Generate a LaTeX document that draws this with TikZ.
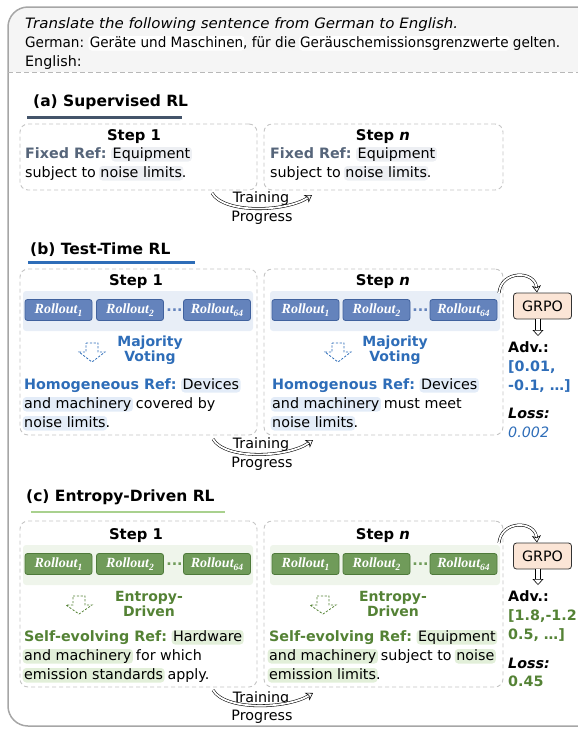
\documentclass[tikz,border=0pt]{standalone}
\usepackage{fontspec}
\usepackage{graphicx}
\setmainfont{DejaVu Sans}
\newfontfamily\rollfont{Liberation Serif}
\usetikzlibrary{arrows.meta}

\definecolor{frameGray}{HTML}{A6A6A6}
\definecolor{topFill}{HTML}{F5F5F5}
\definecolor{boxDash}{HTML}{C4C4C4}
\definecolor{slate}{HTML}{56657A}
\definecolor{slateLine}{HTML}{44546A}
\definecolor{hlGray}{HTML}{EDEFF3}
\definecolor{blueText}{HTML}{2E6DB8}
\definecolor{blueBand}{HTML}{E8EEF7}
\definecolor{blueHl}{HTML}{E3ECF8}
\definecolor{blueRoll}{HTML}{6483BC}
\definecolor{blueRollDraw}{HTML}{41629E}
\definecolor{greenText}{HTML}{548235}
\definecolor{greenLine}{HTML}{A9D18E}
\definecolor{greenBand}{HTML}{EFF5EB}
\definecolor{greenHl}{HTML}{E2EFD9}
\definecolor{greenRoll}{HTML}{709B5A}
\definecolor{greenRollDraw}{HTML}{4E7A3A}
\definecolor{peach}{HTML}{FBE5D6}

\newcommand{\bodyfont}{\fontsize{14.3}{18}\selectfont}
% rounded highlight behind a word group
\newcommand{\hlword}[2]{\kern-1.5pt\relax\tikz[baseline=(hw.base)]\node[shape=rectangle, draw=none, fill=#1, rounded corners=3.5pt, inner xsep=1.5pt, inner ysep=0pt, text height=11pt, text depth=3.5pt, outer sep=0pt, minimum size=0pt](hw){#2};\kern-1.5pt\relax}
\newcommand{\rollname}[1]{Rollout\raisebox{-2.5pt}{\fontsize{9.5}{9.5}\selectfont #1}}
\newcommand{\refa}[1]{\textbf{\color{slate}#1}}
\newcommand{\refb}[1]{\textbf{\color{blueText}#1}}
\newcommand{\refc}[1]{\textbf{\color{greenText}#1}}

\begin{document}
\begin{tikzpicture}[x=1pt,y=-1pt,
  frameline/.style={draw=frameGray, line width=1.5pt},
  sepline/.style={draw=frameGray!80, line width=0.9pt, dash pattern=on 5pt off 3pt},
  topline/.style={anchor=base west, inner sep=0pt, font=\bodyfont},
  heading/.style={anchor=base west, inner sep=0pt, font=\fontsize{15.5}{18}\selectfont\bfseries},
  stepbox/.style={draw=boxDash, line width=0.9pt, dash pattern=on 4pt off 3pt, rounded corners=8pt, inner sep=0pt},
  steptitle/.style={anchor=base, inner sep=0pt, font=\fontsize{14.8}{18}\selectfont\bfseries},
  txt/.style={anchor=base west, inner sep=0pt, font=\bodyfont},
  rollbox/.style={rounded corners=2.5pt, line width=0.8pt, minimum width=67pt, minimum height=21pt, inner sep=0pt, text=white, font=\rollfont\fontsize{14}{14}\selectfont\bfseries\itshape},
  rolldots/.style={inner sep=0pt, font=\bodyfont\bfseries},
  method/.style={align=center, inner sep=0pt, font=\fontsize{14}{15}\selectfont\bfseries},
  grpo/.style={draw=black!80, fill=peach, rounded corners=3pt, line width=0.8pt, minimum width=58pt, minimum height=26pt, inner sep=0pt, font=\bodyfont},
  side/.style={anchor=base west, inner sep=0pt, font=\bodyfont},
  progtxt/.style={anchor=base, inner sep=0pt, font=\bodyfont},
  progarrow/.style={draw=black, line width=0.55pt, double=white, double distance=1.8pt, -{Stealth[open, length=7pt, width=9pt, inset=2pt]}},
  blockarrow/.style={draw=black, line width=0.6pt, double=white, double distance=4pt, -{Triangle[open, length=6pt, width=11pt]}},
  hollowdash/.style={line width=0.8pt, dash pattern=on 2.2pt off 1.6pt, line join=miter}
]
\useasboundingbox (0,0) rectangle (578,729);

% ---- outer frame with shaded prompt area ----
\begin{scope}
  \clip[rounded corners=20pt] (8,7) rectangle (610,726);
  \fill[topFill] (0,0) rectangle (610,72);
\end{scope}
\draw[frameline, rounded corners=20pt] (8,7) rectangle (610,726);
\draw[sepline] (8,72) -- (578,72);

% ---- prompt ----
\node[topline, font=\bodyfont\itshape] (instr) at (25,28) {\resizebox{433pt}{\height}{Translate the following sentence from German to English.}};
\node[topline] (german) at (25,47) {\resizebox{535pt}{\height}{German: \hlword{white}{Geräte und Maschinen}, für die \hlword{white}{Geräuschemissionsgrenzwerte} gelten.}};
\node[topline] (english) at (25,66) {English:};

% ================= (a) Supervised RL =================
\node[heading] (ha) at (33,106) {(a) Supervised RL};
\draw[slateLine, line width=3pt] (27,117) -- (182,117);

\node[stepbox, minimum width=237pt, minimum height=66pt] (a1) at (138.5,157) {};
\node[stepbox, minimum width=239pt, minimum height=66pt] (an) at (383.5,157) {};
\node[steptitle] (a1t) at (134,140) {Step 1};
\node[steptitle] (ant) at (383,140) {Step \textit{n}};
\node[txt] (a1l1) at (25,158) {\refa{Fixed Ref:} \hlword{hlGray}{Equipment}};
\node[txt] (a1l2) at (25,177) {subject to \hlword{hlGray}{noise limits}.};
\node[txt] (anl1) at (270,158) {\refa{Fixed Ref:} \hlword{hlGray}{Equipment}};
\node[txt] (anl2) at (270,177) {subject to \hlword{hlGray}{noise limits}.};

\node[progtxt] (atr) at (261,202) {Training};
\node[progtxt] (apg) at (262,221) {Progress};
\coordinate (aps) at (212,193);
\coordinate (ape) at (312,195);
\draw[progarrow] (aps) .. controls (224,214) and (286,212) .. (ape);

% ================= (b) Test-Time RL =================
\node[heading] (hb) at (30,254) {(b) Test-Time RL};
\draw[blueText, line width=2.5pt] (28,262.5) -- (195,262.5);

\node[stepbox, minimum width=237pt, minimum height=166pt] (b1) at (138.5,352) {};
\node[stepbox, minimum width=239pt, minimum height=166pt] (bn) at (383.5,352) {};
\node[steptitle] (b1t) at (136,285) {Step 1};
\node[steptitle] (bnt) at (383,285) {Step \textit{n}};

\fill[blueBand, rounded corners=3pt] (23,291) rectangle (253,331);
\fill[blueBand, rounded corners=3pt] (270,291) rectangle (500,331);
\node[rollbox, fill=blueRoll, draw=blueRollDraw] (b1r1) at (58.5,310) {\rollname{1}};
\node[rollbox, fill=blueRoll, draw=blueRollDraw] (b1r2) at (130,310) {\rollname{2}};
\node[rolldots, text=blueRoll] (b1d) at (174.5,310) {...};
\node[rollbox, fill=blueRoll, draw=blueRollDraw] (b1r3) at (217,310) {\rollname{64}};
\node[rollbox, fill=blueRoll, draw=blueRollDraw] (bnr1) at (305.5,310) {\rollname{1}};
\node[rollbox, fill=blueRoll, draw=blueRollDraw] (bnr2) at (376.5,310) {\rollname{2}};
\node[rolldots, text=blueRoll] (bnd) at (420.5,310) {...};
\node[rollbox, fill=blueRoll, draw=blueRollDraw] (bnr3) at (463.5,310) {\rollname{64}};

% dashed hollow arrows
\draw[hollowdash, blueText] (86,343) -- (98,343) -- (98,352) -- (105,352) -- (92,362) -- (79,352) -- (86,352) -- cycle;
\draw[hollowdash, blueText] (332,343) -- (344,343) -- (344,352) -- (351,352) -- (338,362) -- (325,352) -- (332,352) -- cycle;
\node[method, text=blueText] (b1m) at (150,350) {Majority\\Voting};
\node[method, text=blueText] (bnm) at (395,350) {Majority\\Voting};

\node[txt] (b1l1) at (24,389) {\refb{Homogeneous Ref:} \hlword{blueHl}{Devices}};
\node[txt] (b1l2) at (24,408) {\hlword{blueHl}{and machinery} covered by};
\node[txt] (b1l3) at (24,427) {\hlword{blueHl}{noise limits}.};
\node[txt] (bnl1) at (272,389) {\refb{Homogenous Ref:} \hlword{blueHl}{Devices}};
\node[txt] (bnl2) at (272,408) {\hlword{blueHl}{and machinery} must meet};
\node[txt] (bnl3) at (272,427) {\hlword{blueHl}{noise limits}.};

\node[grpo] (bg) at (542.5,306) {GRPO};
\coordinate (bgs) at (499,293);
\coordinate (bge) at (537,292.5);
\draw[progarrow] (bgs) .. controls (501,270) and (535,270) .. (bge);
\coordinate (bgd) at (538,319);
\coordinate (bga) at (538,336);
\draw[blockarrow] (bgd) -- (bga);
\node[side, font=\bodyfont\bfseries] (bav) at (508,352) {Adv.:};
\node[side, font=\bodyfont\bfseries, text=blueText] (bv1) at (508,371) {[0.01,};
\node[side, font=\bodyfont\bfseries, text=blueText] (bv2) at (508,390) {-0.1, \textellipsis]};
\node[side, font=\bodyfont\bfseries\itshape] (blo) at (508,418) {Loss:};
\node[side, font=\bodyfont\itshape, text=blueText] (blv) at (508,437) {0.002};

\node[progtxt] (btr) at (261,448) {Training};
\node[progtxt] (bpg) at (262,467) {Progress};
\coordinate (bps) at (213,439);
\coordinate (bpe) at (313,440);
\draw[progarrow] (bps) .. controls (225,460) and (287,458) .. (bpe);

% ================= (c) Entropy-Driven RL =================
\node[heading] (hc) at (26,501) {(c) Entropy-Driven RL};
\draw[greenLine, line width=2.5pt] (31,512) -- (225,512);

\node[stepbox, minimum width=237pt, minimum height=166pt] (c1) at (138.5,604) {};
\node[stepbox, minimum width=239pt, minimum height=166pt] (cn) at (383.5,604) {};
\node[steptitle] (c1t) at (136,539) {Step 1};
\node[steptitle] (cnt) at (383,539) {Step \textit{n}};

\fill[greenBand, rounded corners=3pt] (23,545) rectangle (253,585);
\fill[greenBand, rounded corners=3pt] (270,545) rectangle (500,585);
\node[rollbox, fill=greenRoll, draw=greenRollDraw] (c1r1) at (58.5,564) {\rollname{1}};
\node[rollbox, fill=greenRoll, draw=greenRollDraw] (c1r2) at (130,564) {\rollname{2}};
\node[rolldots, text=greenRoll] (c1d) at (174.5,564) {...};
\node[rollbox, fill=greenRoll, draw=greenRollDraw] (c1r3) at (217,564) {\rollname{64}};
\node[rollbox, fill=greenRoll, draw=greenRollDraw] (cnr1) at (305.5,564) {\rollname{1}};
\node[rollbox, fill=greenRoll, draw=greenRollDraw] (cnr2) at (376.5,564) {\rollname{2}};
\node[rolldots, text=greenRoll] (cnd) at (420.5,564) {...};
\node[rollbox, fill=greenRoll, draw=greenRollDraw] (cnr3) at (463.5,564) {\rollname{64}};

\draw[hollowdash, greenText] (73,596) -- (85,596) -- (85,605) -- (92,605) -- (79,614) -- (66,605) -- (73,605) -- cycle;
\draw[hollowdash, greenText] (317,596) -- (329,596) -- (329,605) -- (336,605) -- (323,614) -- (310,605) -- (317,605) -- cycle;
\node[method, text=greenText] (c1m) at (149,603.5) {Entropy-\\Driven};
\node[method, text=greenText] (cnm) at (393,603.5) {Entropy-\\Driven};

\node[txt] (c1l1) at (24,641) {\refc{Self-evolving Ref:} \hlword{greenHl}{Hardware}};
\node[txt] (c1l2) at (24,660) {\hlword{greenHl}{and machinery} for which};
\node[txt] (c1l3) at (24,679) {\hlword{greenHl}{emission standards} apply.};
\node[txt] (cnl1) at (269,641) {\refc{Self-evolving Ref:} \hlword{greenHl}{Equipment}};
\node[txt] (cnl2) at (269,660) {\hlword{greenHl}{and machinery} subject to \hlword{greenHl}{noise}};
\node[txt] (cnl3) at (269,679) {\hlword{greenHl}{emission limits}.};

\node[grpo] (cg) at (542.5,556) {GRPO};
\coordinate (cgs) at (499,543);
\coordinate (cge) at (537,542.5);
\draw[progarrow] (cgs) .. controls (501,520) and (535,520) .. (cge);
\coordinate (cgd) at (538,569);
\coordinate (cga) at (538,585);
\draw[blockarrow] (cgd) -- (cga);
\node[side, font=\bodyfont\bfseries] (cav) at (508,601) {Adv.:};
\node[side, font=\bodyfont\bfseries, text=greenText] (cv1) at (508,620) {[1.8,-1.2};
\node[side, font=\bodyfont\bfseries, text=greenText] (cv2) at (508,639) {0.5, \textellipsis]};
\node[side, font=\bodyfont\bfseries\itshape] (clo) at (508,668) {Loss:};
\node[side, font=\bodyfont\bfseries, text=greenText] (clv) at (508,686) {0.45};

\node[progtxt] (ctr) at (261,702) {Training};
\node[progtxt] (cpg) at (262,720) {Progress};
\coordinate (cps) at (213,690);
\coordinate (cpe) at (313,693);
\draw[progarrow] (cps) .. controls (225,711) and (287,709) .. (cpe);
\end{tikzpicture}
\end{document}
